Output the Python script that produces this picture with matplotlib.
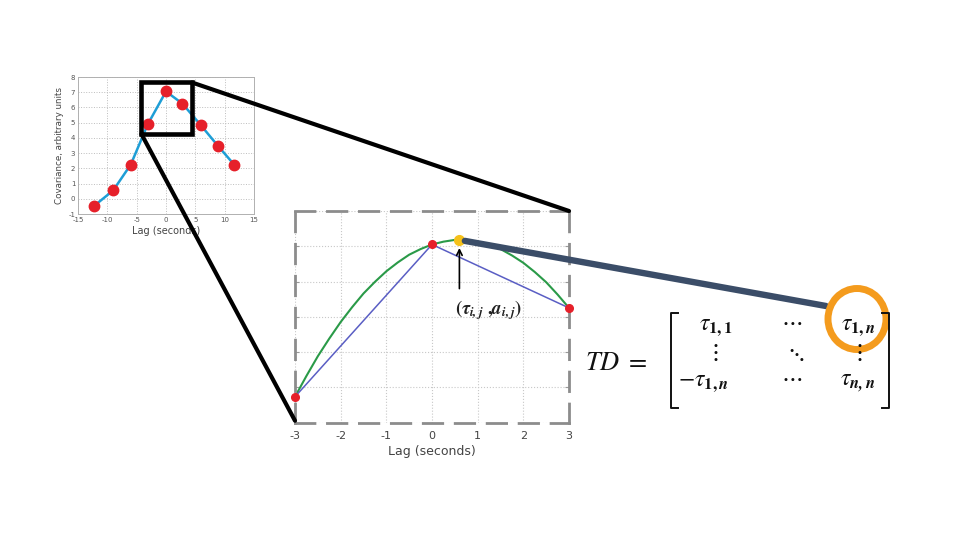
import numpy as np
import matplotlib
matplotlib.use('Agg')
import matplotlib.pyplot as plt
from matplotlib.patches import Rectangle, Ellipse, ConnectionPatch

plt.rcParams['mathtext.fontset'] = 'stix'
plt.rcParams['axes.unicode_minus'] = False

# 左边小图：协方差随时滞变化
small_lag = [-12.2, -9.0, -6.0, -3.1, 0.0, 2.8, 5.9, 8.8, 11.6]
small_cov = [-0.45, 0.55, 2.25, 4.9, 7.05, 6.25, 4.85, 3.5, 2.25]
small_xticks = [-15, -10, -5, 0, 5, 10, 15]
small_yticks = [-1, 0, 1, 2, 3, 4, 5, 6, 7, 8]
zoom_box = [-4.2, 4.26, 4.43, 7.64]  # x0, y0, x1, y1

# 放大图：三个采样点 + 抛物线插值 + 峰值
lag_pts = [-3, 0, 3]
cov_pts = [0.73, 5.05, 3.25]
fit_lag = [-3, -2.75, -2.5, -2.25, -2, -1.75, -1.5, -1.25, -1, -0.75, -0.5, -0.25, 0,
           0.25, 0.5, 0.75, 1, 1.25, 1.5, 1.75, 2, 2.25, 2.5, 2.75, 3]
fit_cov = [0.73, 1.32, 1.88, 2.38, 2.85, 3.27, 3.66, 3.99, 4.29, 4.54, 4.76, 4.92, 5.05,
           5.13, 5.18, 5.17, 5.13, 5.04, 4.92, 4.74, 4.53, 4.27, 3.98, 3.63, 3.25]
peak_lag = 0.6
peak_cov = 5.18
big_xticks = [-3, -2, -1, 0, 1, 2, 3]
big_yticks = [0, 1, 2, 3, 4, 5, 6]

W, H = 960, 540


def px_rect(x0, y0, x1, y1):
    return [x0 / W, 1 - y1 / H, (x1 - x0) / W, (y1 - y0) / H]


fig = plt.figure(figsize=(9.6, 5.4), dpi=100)

# ---- 小图 ----
ax1 = fig.add_axes(px_rect(78, 77, 254, 214))
ax1.plot(small_lag, small_cov, color='#1e9ed6', lw=1.8, zorder=2)
ax1.plot(small_lag, small_cov, 'o', color='#e6202a', ms=7.5, zorder=3)
ax1.set_xlim(-15, 15)
ax1.set_ylim(-1, 8)
ax1.set_xticks(small_xticks)
ax1.set_yticks(small_yticks)
ax1.tick_params(labelsize=5, length=0, colors='#555555', pad=2)
ax1.grid(True, ls=':', color='#bdbdbd', lw=0.7)
for s in ax1.spines.values():
    s.set_color('#b0b0b0')
    s.set_linewidth(0.7)
ax1.set_xlabel('Lag (seconds)', fontsize=7, color='#444444', labelpad=2)
ax1.set_ylabel('Covariance, arbitrary units', fontsize=6.3, color='#444444', labelpad=3)
ax1.add_patch(Rectangle((zoom_box[0], zoom_box[1]), zoom_box[2] - zoom_box[0],
                        zoom_box[3] - zoom_box[1], fill=False, ec='black', lw=3.3,
                        zorder=5, clip_on=False))

# ---- 放大图 ----
ax2 = fig.add_axes(px_rect(295, 211, 569, 422.5))
ax2.plot(fit_lag, fit_cov, color='#2a9a48', lw=1.5, zorder=2)
ax2.plot(lag_pts, cov_pts, color='#5a5ec4', lw=1.1, zorder=2)
ax2.plot(lag_pts, cov_pts, 'o', color='#e6202a', ms=5.5, zorder=4, clip_on=False)
ax2.plot([peak_lag], [peak_cov], 'o', color='#f5c11a', ms=7, zorder=6, clip_on=False)
ax2.set_xlim(-3, 3)
ax2.set_ylim(0, 6)
ax2.set_xticks(big_xticks)
ax2.set_yticks(big_yticks)
ax2.set_yticklabels([])
ax2.tick_params(axis='x', labelsize=8, length=0, colors='#444444', pad=6)
ax2.tick_params(axis='y', direction='in', length=3, color='#999999', left=True, right=True)
ax2.grid(True, ls=':', color='#c8c8c8', lw=0.8)
for s in ax2.spines.values():
    s.set_color('#8c8c8c')
    s.set_linewidth(2)
    s.set_linestyle((0, (7, 4.5)))
ax2.set_xlabel('Lag (seconds)', fontsize=9, color='#444444', labelpad=3)
ax2.annotate('', xy=(peak_lag, 5.03), xytext=(peak_lag, 3.72),
             arrowprops=dict(arrowstyle='->', color='black', lw=1.2))
ax2.text(1.25, 3.2, r'$\mathbf{(}\mathbfit{\tau}_{\mathbfit{i,j}}\ \mathbf{,}\mathbfit{a}_{\mathbfit{i,j}}\mathbf{)}$',
         fontsize=13.5, ha='center', va='center', color='#222222')

# ---- 覆盖层：连接线与矩阵 ----
over = fig.add_axes([0, 0, 1, 1])
over.set_xlim(0, W)
over.set_ylim(H, 0)
over.axis('off')
over.patch.set_alpha(0)
over.set_zorder(10)

con1 = ConnectionPatch(xyA=(zoom_box[2], zoom_box[3]), coordsA=ax1.transData,
                       xyB=(3, 6), coordsB=ax2.transData, color='black', lw=3)
con2 = ConnectionPatch(xyA=(zoom_box[0], zoom_box[1]), coordsA=ax1.transData,
                       xyB=(-3, 0.05), coordsB=ax2.transData, color='black', lw=3)
con3 = ConnectionPatch(xyA=(peak_lag, peak_cov), coordsA=ax2.transData,
                       xyB=(826, 306), coordsB=over.transData, color='#3b4d68',
                       lw=4.6, shrinkA=4, shrinkB=0)
for c in (con1, con2, con3):
    c.set_zorder(8)
    fig.add_artist(c)

over.text(585, 363, r'$TD\ =\ $', fontsize=19, ha='left', va='center', color='#111111')
cells = [
    (716, 326, r'$\tau_{\mathbf{1,1}}$'), (792, 322, r'$\cdots$'), (858, 326, r'$\tau_{\mathbf{1,}\mathbfit{n}}$'),
    (714, 352, r'$\vdots$'), (795, 354, r'$\ddots$'), (858, 352, r'$\vdots$'),
    (703, 382, r'$-\tau_{\mathbf{1,}\mathbfit{n}}$'), (792, 378, r'$\cdots$'), (858, 382, r'$\tau_{\mathbfit{n,n}}$'),
]
for x, y, s in cells:
    over.text(x, y, s, fontsize=17, ha='center', va='center', color='#111111')

over.plot([678, 671, 671, 678], [313, 313, 408, 408], color='#111111', lw=1.4)
over.plot([882, 889, 889, 882], [313, 313, 408, 408], color='#111111', lw=1.4)
over.add_patch(Ellipse((857, 319), 58, 61, fill=False, ec='#f49b1d', lw=5))

fig.savefig('out.png', dpi=100)
